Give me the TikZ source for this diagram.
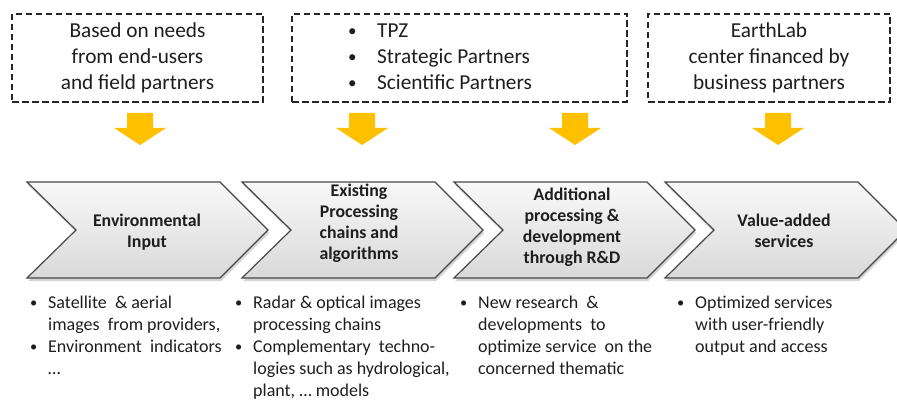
\documentclass[tikz,border=0pt]{standalone}
\usepackage{fontspec}
\setmainfont{Carlito}
\usetikzlibrary{shadows}
\definecolor{arrowyellow}{HTML}{FFC000}
\definecolor{txt}{HTML}{1E1E1E}
\newcommand{\bul}[1]{\makebox[#1][l]{\raisebox{0.05em}{\scalebox{0.8}{•}}}}
\begin{document}
\begin{tikzpicture}[x=1pt,y=-1pt,
  dashbox/.style={draw=black!85, line width=1.4pt, dash pattern=on 6.5pt off 3.5pt, inner sep=0pt},
  downarrow/.style={fill=arrowyellow, draw=none},
  chev/.style={draw=black!72, line width=1.2pt, top color=gray!5, bottom color=gray!30,
     drop shadow={opacity=0.35, shadow xshift=1pt, shadow yshift=-3pt}},
  toptext/.style={font=\fontsize{21.3}{26}\selectfont, text=txt, align=center, inner sep=0pt},
  chevtext/.style={font=\bfseries\fontsize{17.8}{21}\selectfont, text=txt, align=center, inner sep=0pt},
  bottext/.style={font=\fontsize{18}{22}\selectfont, text=txt, inner sep=0pt, anchor=base west},
]
\useasboundingbox (0,0) rectangle (897,401);

% top dashed boxes
\node[dashbox, toptext, minimum width=251pt, minimum height=88pt] (b1) at (137.5,58)
  {Based on needs\\from end-users\\and field partners};
\node[dashbox, minimum width=335pt, minimum height=88pt] (b2) at (459.5,58) {};
\node[toptext, anchor=base west] (b2t) at (348,38)
  {\begin{tabular}[t]{@{}l@{}}\bul{29pt}TPZ\\ \bul{29pt}Strategic Partners\\ \bul{29pt}Scientific Partners\end{tabular}};
\node[dashbox, toptext, minimum width=242pt, minimum height=88pt] (b3) at (769,58)
  {EarthLab\\center financed by\\business partners};

% yellow arrows
\foreach \cx/\nm in {140/a1,362/a2,575/a3,778/a4}{
  \fill[downarrow] (\cx-13,113) -- (\cx+13,113) -- (\cx+13,128) -- (\cx+26,128) -- (\cx,145)
     -- (\cx-26,128) -- (\cx-13,128) -- cycle;
}

% chevrons
\foreach \xo in {27,242,454,665}{
  \path[chev] (\xo,182) -- (\xo+193,182) -- (\xo+241,230) -- (\xo+193,278) -- (\xo,278)
     -- (\xo+49,230) -- cycle;
}
\node[chevtext] (c1) at (147,232) {Environmental\\Input};
\node[chevtext] (c2) at (359,223) {Existing\\Processing\\chains and\\algorithms};
\node[chevtext] (c3) at (572,227) {Additional\\processing \&\\development\\through R\&D};
\node[chevtext] (c4) at (784,231) {Value-added\\services};

% bottom bullet texts
\node[bottext] (t1) at (30,308)
  {\begin{tabular}[t]{@{}l@{}}\bul{18pt}Satellite \ \& aerial\\ \hspace*{18pt}images \ from providers,\\ \bul{18pt}Environment \ indicators\\ \hspace*{18pt}…\end{tabular}};
\node[bottext] (t2) at (235,308)
  {\begin{tabular}[t]{@{}l@{}}\bul{18pt}Radar \& optical images\\ \hspace*{18pt}processing chains\\ \bul{18pt}Complementary \ techno-\\ \hspace*{18pt}logies such as hydrological,\\ \hspace*{18pt}plant, … models\end{tabular}};
\node[bottext] (t3) at (460,308)
  {\begin{tabular}[t]{@{}l@{}}\bul{18pt}New research \ \&\\ \hspace*{18pt}developments \ to\\ \hspace*{18pt}optimize service \ on the\\ \hspace*{18pt}concerned thematic\end{tabular}};
\node[bottext] (t4) at (677,308)
  {\begin{tabular}[t]{@{}l@{}}\bul{18pt}Optimized services\\ \hspace*{18pt}with user-friendly\\ \hspace*{18pt}output and access\end{tabular}};
\end{tikzpicture}
\end{document}
